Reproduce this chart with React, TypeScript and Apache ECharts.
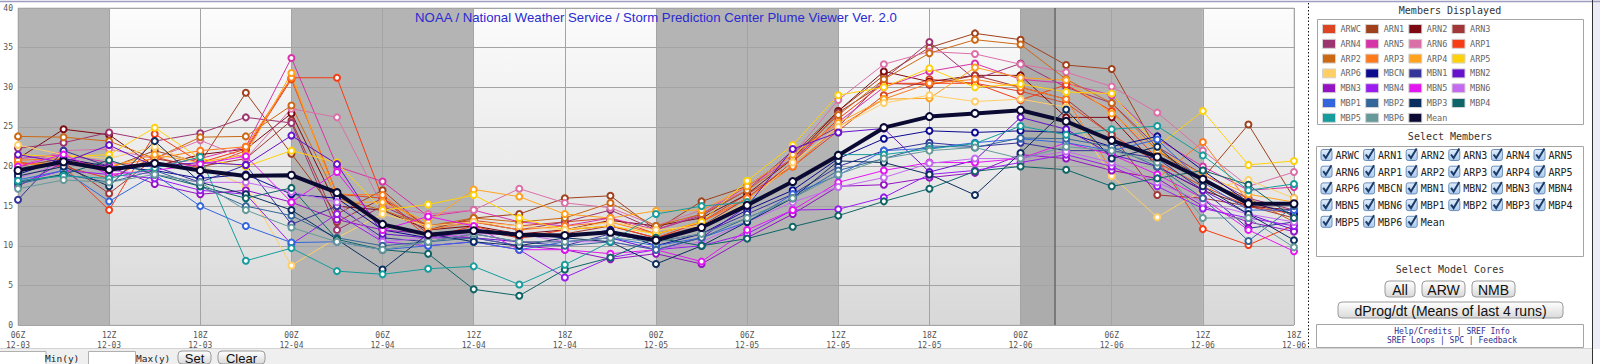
import React, { useEffect, useRef } from 'react';
import * as echarts from 'echarts';

// ---------- data ----------
const hours = [0, 3, 6, 9, 12, 15, 18, 21, 24, 27, 30, 33, 36, 39, 42, 45, 48, 51, 54, 57, 60, 63, 66, 69, 72, 75, 78, 81, 84];
const tickLabels = ['06Z\n12-03', '12Z\n12-03', '18Z\n12-03', '00Z\n12-04', '06Z\n12-04', '12Z\n12-04', '18Z\n12-04', '00Z\n12-05', '06Z\n12-05', '12Z\n12-05', '18Z\n12-05', '00Z\n12-06', '06Z\n12-06', '12Z\n12-06', '18Z\n12-06'];
const nightBands = [[0, 6], [18, 30], [42, 54], [68.25, 78]];
const pastBand = [66, 68.25];
const nowHour = 68.25;

const ARWC = [20.5, 20.0, 18.5, 21.2, 19.8, 22.0, 31.0, 16.5, 16.0, 12.5, 13.2, 12.5, 13.0, 13.5, 11.5, 13.0, 16.5, 20.0, 24.5, 29.0, 31.0, 30.5, 29.5, 28.0, 24.0, 20.5, 17.5, 15.0, 14.0];
const ARN1 = [20.0, 21.0, 19.8, 22.0, 20.5, 29.3, 21.6, 14.0, 17.0, 12.0, 13.5, 14.0, 16.0, 16.3, 12.0, 15.6, 17.5, 21.5, 27.0, 31.5, 35.0, 36.8, 36.0, 32.8, 32.3, 22.0, 18.5, 25.3, 16.0];
const ARN2 = [21.0, 24.7, 24.0, 20.0, 21.5, 22.2, 26.7, 15.0, 14.5, 12.0, 12.5, 11.5, 12.0, 13.2, 12.5, 13.5, 16.5, 21.0, 27.0, 32.0, 30.7, 31.5, 31.5, 26.2, 26.2, 20.0, 17.0, 15.0, 14.5];
const ARN3 = [19.5, 20.5, 16.6, 21.0, 20.0, 21.0, 25.8, 13.0, 16.0, 11.5, 12.0, 11.0, 11.5, 12.5, 11.0, 12.5, 16.0, 20.5, 26.8, 30.5, 30.3, 31.5, 30.0, 28.5, 24.0, 16.4, 16.0, 15.0, 13.5];
const ARN4 = [22.3, 23.0, 24.3, 23.2, 24.2, 26.2, 25.5, 12.0, 15.0, 12.5, 13.0, 12.0, 13.0, 14.5, 12.0, 13.8, 17.0, 22.0, 25.0, 31.0, 35.7, 31.0, 33.0, 30.0, 28.0, 22.5, 19.0, 16.0, 14.5];
const ARN5 = [21.0, 21.5, 20.5, 20.0, 21.0, 22.5, 33.7, 20.0, 18.1, 13.7, 14.5, 13.0, 12.5, 13.5, 12.0, 14.0, 17.5, 21.0, 25.6, 30.0, 32.0, 33.0, 31.0, 30.5, 29.0, 23.5, 20.0, 17.0, 17.4];
const ARN6 = [20.0, 22.0, 22.2, 21.0, 23.3, 21.0, 27.3, 26.2, 15.0, 14.0, 14.5, 17.2, 15.4, 14.8, 12.5, 14.5, 17.0, 21.5, 28.4, 32.9, 34.5, 34.2, 32.9, 31.9, 30.1, 26.8, 22.0, 17.5, 19.3];
const ARP1 = [20.5, 20.0, 14.5, 24.1, 20.5, 22.2, 31.2, 31.2, 16.0, 11.0, 12.5, 11.0, 12.0, 12.5, 11.0, 13.0, 16.0, 20.5, 26.0, 30.5, 30.5, 30.5, 28.4, 30.3, 27.0, 21.0, 12.1, 10.1, 12.6];
const ARP2 = [23.8, 23.7, 23.2, 21.0, 23.7, 23.8, 27.7, 16.0, 14.5, 12.5, 13.5, 13.0, 13.5, 15.4, 12.5, 14.0, 17.0, 21.0, 26.5, 31.0, 34.3, 36.0, 35.4, 31.0, 28.0, 22.0, 18.0, 16.0, 13.0];
const ARP3 = [20.8, 21.0, 20.0, 21.0, 22.0, 22.5, 31.2, 16.5, 16.4, 12.0, 13.0, 12.0, 12.5, 13.0, 11.5, 13.0, 16.0, 20.0, 25.0, 28.5, 30.5, 31.0, 30.0, 28.5, 19.5, 18.5, 23.1, 15.5, 14.0];
const ARP4 = [20.2, 20.5, 20.0, 21.5, 20.5, 21.5, 31.8, 15.5, 15.5, 13.0, 17.1, 16.2, 14.0, 13.5, 14.4, 14.5, 17.5, 21.5, 25.5, 28.5, 28.6, 32.5, 31.2, 30.9, 26.7, 22.0, 19.0, 16.5, 15.5];
const ARP5 = [21.5, 21.2, 21.5, 24.9, 21.0, 20.0, 22.0, 20.5, 14.5, 15.2, 16.4, 13.5, 12.0, 12.5, 11.5, 13.0, 18.2, 22.7, 29.0, 30.0, 32.4, 30.0, 30.4, 29.4, 29.2, 22.5, 27.0, 20.2, 20.7];
const ARP6 = [22.7, 21.5, 21.0, 22.5, 20.2, 17.5, 7.5, 11.0, 14.0, 12.5, 13.0, 12.5, 12.0, 13.0, 12.0, 12.5, 15.5, 20.5, 25.0, 28.0, 29.0, 28.2, 28.5, 27.5, 18.8, 13.6, 17.0, 18.3, 16.0];
const MBCN = [19.0, 21.0, 20.0, 19.5, 18.5, 19.0, 16.5, 16.0, 12.0, 11.0, 12.0, 11.5, 11.0, 12.0, 10.0, 11.5, 14.5, 17.0, 21.0, 23.5, 24.5, 24.3, 24.5, 24.3, 22.5, 23.8, 19.5, 15.5, 14.0];
const MBN1 = [15.8, 22.0, 20.0, 20.0, 18.0, 20.2, 12.7, 15.0, 11.0, 10.5, 11.5, 10.5, 10.0, 11.5, 10.5, 11.5, 14.0, 16.5, 20.0, 22.0, 23.0, 22.5, 23.0, 22.0, 22.0, 21.0, 17.0, 12.2, 13.0];
const MBN2 = [21.5, 20.5, 22.7, 20.0, 20.5, 20.2, 23.9, 20.3, 11.5, 11.0, 11.0, 10.5, 10.5, 11.0, 9.5, 11.0, 15.0, 22.2, 24.3, 24.8, 19.3, 20.8, 26.2, 24.7, 21.5, 20.0, 17.0, 14.0, 12.0];
const MBN3 = [17.5, 20.5, 20.0, 17.8, 16.5, 17.0, 15.5, 13.3, 12.0, 11.5, 11.0, 10.0, 9.5, 8.3, 9.0, 7.7, 11.0, 14.0, 17.5, 17.7, 18.6, 19.2, 21.5, 21.0, 19.5, 18.5, 15.0, 13.0, 11.8];
const MBN4 = [18.0, 19.5, 19.0, 18.5, 17.0, 16.5, 10.2, 14.0, 10.5, 10.0, 10.5, 9.5, 6.0, 8.5, 9.5, 10.0, 11.5, 14.5, 14.6, 16.1, 19.0, 19.5, 20.5, 21.5, 20.0, 17.5, 14.7, 13.5, 12.5];
const MBN5 = [20.0, 21.5, 19.0, 19.5, 20.3, 21.3, 15.5, 19.3, 12.0, 13.7, 12.5, 9.5, 9.5, 9.0, 9.5, 8.0, 12.0, 14.5, 18.0, 19.5, 20.5, 20.5, 21.0, 23.0, 21.5, 19.0, 16.0, 12.0, 9.3];
const MBN6 = [18.5, 20.5, 19.5, 19.0, 18.0, 18.0, 16.8, 15.5, 10.5, 11.0, 11.5, 11.5, 10.5, 10.5, 9.5, 10.5, 13.0, 15.5, 17.4, 18.6, 20.4, 21.0, 21.0, 21.9, 20.5, 18.0, 15.5, 14.0, 13.0];
const MBP1 = [18.3, 19.5, 15.6, 19.0, 15.0, 12.5, 10.4, 10.5, 9.5, 10.0, 10.5, 9.5, 10.5, 11.0, 10.0, 11.0, 13.0, 16.5, 18.9, 22.0, 22.3, 23.0, 23.5, 23.0, 22.0, 23.4, 18.0, 14.5, 14.5];
const MBP2 = [17.8, 19.0, 18.0, 19.5, 17.5, 15.0, 13.8, 11.0, 10.0, 10.5, 11.0, 10.0, 10.0, 10.5, 9.5, 11.0, 13.5, 16.0, 19.5, 21.0, 22.6, 22.4, 23.6, 23.5, 22.5, 20.0, 16.0, 10.6, 15.0];
const MBP3 = [18.8, 20.0, 17.5, 23.2, 18.0, 16.5, 14.5, 10.8, 7.0, 11.5, 10.5, 10.0, 11.0, 10.5, 7.7, 10.0, 13.0, 16.0, 20.7, 20.5, 19.0, 16.4, 21.7, 27.2, 21.0, 22.5, 17.5, 14.0, 10.7];
const MBP4 = [18.0, 19.0, 20.8, 19.0, 17.5, 16.0, 17.3, 10.8, 9.5, 9.0, 4.5, 3.7, 7.0, 8.5, 11.0, 10.0, 10.9, 12.4, 13.8, 15.6, 17.2, 19.4, 20.0, 19.6, 17.5, 18.5, 19.5, 17.7, 13.5];
const MBP5 = [18.2, 18.8, 18.5, 19.8, 21.2, 8.1, 9.7, 6.8, 6.4, 7.1, 7.4, 5.1, 7.6, 10.5, 14.0, 15.0, 15.5, 18.0, 21.5, 21.5, 22.2, 22.9, 25.1, 24.0, 24.7, 25.1, 21.4, 17.0, 17.8];
const MBP6 = [17.2, 18.3, 18.0, 19.0, 18.0, 14.5, 12.3, 10.5, 9.5, 10.5, 11.5, 10.5, 10.5, 11.0, 10.5, 11.5, 13.5, 16.0, 19.0, 21.0, 22.0, 22.4, 21.0, 22.5, 22.0, 20.5, 13.5, 13.5, 9.8];
const MEAN = [19.5, 20.6, 19.6, 20.4, 19.5, 18.8, 18.9, 16.7, 12.7, 11.4, 11.9, 11.4, 11.3, 11.7, 10.7, 12.3, 15.1, 18.1, 21.4, 24.9, 26.3, 26.7, 27.1, 25.7, 23.3, 21.2, 18.4, 15.3, 15.3];

const memberNames = ['ARWC', 'ARN1', 'ARN2', 'ARN3', 'ARN4', 'ARN5', 'ARN6', 'ARP1', 'ARP2', 'ARP3', 'ARP4', 'ARP5', 'ARP6', 'MBCN', 'MBN1', 'MBN2', 'MBN3', 'MBN4', 'MBN5', 'MBN6', 'MBP1', 'MBP2', 'MBP3', 'MBP4', 'MBP5', 'MBP6'];
const memberValues = [ARWC, ARN1, ARN2, ARN3, ARN4, ARN5, ARN6, ARP1, ARP2, ARP3, ARP4, ARP5, ARP6, MBCN, MBN1, MBN2, MBN3, MBN4, MBN5, MBN6, MBP1, MBP2, MBP3, MBP4, MBP5, MBP6];
const memberColors = ['#dd4422', '#a0401c', '#7d0a12', '#a33636', '#9c3470', '#d633a8', '#db6fa8', '#f53c14', '#cc6814', '#ff7a1a', '#ffa31f', '#ffd10a', '#ffcf66', '#0b0b8f', '#333399', '#6611cc', '#9413c2', '#9a1cf0', '#e316f2', '#c569f0', '#3366dd', '#336699', '#0c2e5e', '#0e6466', '#169c9c', '#669999'];
const meanName = 'Mean';
const meanColor = '#0a0a33';
const titleText = 'NOAA / National Weather Service / Storm Prediction Center Plume Viewer Ver. 2.0';
const coreButtons = ['All', 'ARW', 'NMB'];

// ---------- styling helpers ----------
const MONO = '"DejaVu Sans Mono", "Liberation Mono", monospace';
const SANS = '"Liberation Sans", Arial, sans-serif';

function txt(text: string, x: number, y: number, size: number, fill: string, family = MONO, align = 'left') {
  return { type: 'text', x, y, silent: true, style: { text, fontSize: size, fontFamily: family, fill, align, verticalAlign: 'middle' } };
}

function button(label: string, x: number, y: number, w: number, h: number, size: number) {
  const fill = new echarts.graphic.LinearGradient(0, 0, 0, 1, [
    { offset: 0, color: '#ffffff' },
    { offset: 1, color: '#d9d9d9' },
  ]);
  return [
    { type: 'rect', silent: true, shape: { x, y, width: w, height: h, r: 4 }, style: { fill, stroke: '#9a9a9a', lineWidth: 1 } },
    txt(label, x + w / 2, y + h / 2 + 0.5, size, '#111', SANS, 'center'),
  ];
}

function checkbox(name: string, x: number, y: number) {
  const fill = new echarts.graphic.LinearGradient(0, 0, 0, 1, [
    { offset: 0, color: '#e2eefb' },
    { offset: 1, color: '#a9c9ee' },
  ]);
  return [
    { type: 'rect', silent: true, shape: { x, y: y - 5.5, width: 11, height: 11, r: 2 }, style: { fill, stroke: '#6a8db8', lineWidth: 1 } },
    { type: 'polyline', silent: true, shape: { points: [[x + 2.2, y - 0.5], [x + 4.8, y + 3], [x + 10.5, y - 6.5]] }, style: { stroke: '#1b3b68', lineWidth: 2, fill: null } },
    txt(name, x + 14.5, y + 0.5, 10, '#222'),
  ];
}

function buildOption() {
  const allNames = [...memberNames, meanName];
  const allColors = [...memberColors, meanColor];

  const legendRows: string[][] = [];
  for (let i = 0; i < allNames.length; i += 4) legendRows.push(allNames.slice(i, i + 4));

  const legends = legendRows.map((row, r) => ({
    data: row.map((n) => ({ name: n, itemStyle: { color: allColors[allNames.indexOf(n)] } })),
    left: 1322,
    top: 24 + r * 14.8,
    orient: 'horizontal',
    icon: 'rect',
    itemWidth: 13,
    itemHeight: 9,
    itemGap: 4.2,
    padding: 0,
    selectedMode: false,
    itemStyle: { borderColor: '#d4d4d4', borderWidth: 1 },
    textStyle: { fontFamily: MONO, fontSize: 8.5, color: '#666' },
  }));

  const graphics: any[] = [];
  // page frame
  graphics.push({ type: 'rect', silent: true, shape: { x: 0, y: 349, width: 1593, height: 15 }, style: { fill: '#efefef' } });
  graphics.push({ type: 'line', silent: true, shape: { x1: 0, y1: 348.5, x2: 1592, y2: 348.5 }, style: { stroke: '#d3d3d3', lineWidth: 1 } });
  graphics.push({ type: 'rect', silent: true, shape: { x: 1593, y: 0, width: 7, height: 349 }, style: { fill: '#ececf6' } });
  graphics.push({ type: 'line', silent: true, shape: { x1: 0, y1: 1.5, x2: 1600, y2: 1.5 }, style: { stroke: '#9d9dc2', lineWidth: 1.5 } });
  graphics.push({ type: 'line', silent: true, shape: { x1: 1592.5, y1: 0, x2: 1592.5, y2: 364 }, style: { stroke: '#333', lineWidth: 1 } });
  graphics.push({ type: 'line', silent: true, shape: { x1: 1308.5, y1: 3, x2: 1308.5, y2: 349 }, style: { stroke: '#111', lineWidth: 1, lineDash: [1.5, 2] } });

  // members displayed
  graphics.push(txt('Members Displayed', 1450, 10, 10, '#333', MONO, 'center'));
  graphics.push({ type: 'rect', silent: true, shape: { x: 1317.5, y: 19.5, width: 266, height: 105 }, style: { fill: 'none', stroke: '#a5a5a5', lineWidth: 1 } });

  // select members
  graphics.push(txt('Select Members', 1450, 136, 10, '#333', MONO, 'center'));
  graphics.push({ type: 'rect', silent: true, shape: { x: 1316.5, y: 146.5, width: 267, height: 110 }, style: { fill: 'none', stroke: '#a5a5a5', lineWidth: 1 } });
  allNames.forEach((n, i) => {
    const r = Math.floor(i / 6);
    const c = i % 6;
    graphics.push(...checkbox(n, 1321 + c * 42.6, 155 + r * 16.7));
  });

  // model cores
  graphics.push(txt('Select Model Cores', 1450, 269, 10, '#333', MONO, 'center'));
  const coreX = [1385, 1422, 1472];
  const coreW = [30, 43, 43];
  coreButtons.forEach((b, i) => graphics.push(...button(b, coreX[i], 281, coreW[i], 16, 14)));
  graphics.push(...button('dProg/dt (Means of last 4 runs)', 1338, 302, 225, 16, 14));

  // links
  graphics.push({ type: 'rect', silent: true, shape: { x: 1316.5, y: 324.5, width: 267, height: 23 }, style: { fill: 'none', stroke: '#a5a5a5', lineWidth: 1 } });
  graphics.push(txt('Help/Credits | SREF Info', 1452, 331, 8, '#2d2d8f', MONO, 'center'));
  graphics.push(txt('SREF Loops | SPC | Feedback', 1452, 340.5, 8, '#2d2d8f', MONO, 'center'));

  // bottom controls
  graphics.push({ type: 'rect', silent: true, shape: { x: -1, y: 351.5, width: 47, height: 13 }, style: { fill: '#fff', stroke: '#b0b0b0', lineWidth: 1 } });
  graphics.push(txt('Min(y)', 45, 358, 9.5, '#222'));
  graphics.push({ type: 'rect', silent: true, shape: { x: 88.5, y: 351.5, width: 47, height: 13 }, style: { fill: '#fff', stroke: '#b0b0b0', lineWidth: 1 } });
  graphics.push(txt('Max(y)', 136, 358, 9.5, '#222'));
  graphics.push(...button('Set', 178, 351, 33, 13, 13));
  graphics.push(...button('Clear', 218, 351, 47, 13, 13));

  const memberSeries = memberNames.map((name, k) => ({
    type: 'line',
    name,
    color: memberColors[k],
    z: 3,
    silent: true,
    data: hours.map((h, i) => [h, memberValues[k][i]]),
    symbol: 'emptyCircle',
    symbolSize: 6,
    lineStyle: { width: 1, color: memberColors[k] },
    itemStyle: { color: memberColors[k], borderWidth: 1.6 },
    emphasis: { disabled: true },
  }));

  const meanSeries = {
    type: 'line',
    name: meanName,
    color: meanColor,
    z: 4,
    silent: true,
    data: hours.map((h, i) => [h, MEAN[i]]),
    symbol: 'emptyCircle',
    symbolSize: 7,
    lineStyle: { width: 4, color: meanColor },
    itemStyle: { color: meanColor, borderWidth: 1.8 },
    emphasis: { disabled: true },
  };

  const bandSeries = {
    type: 'line',
    name: 'bands',
    data: [],
    silent: true,
    markArea: {
      silent: true,
      itemStyle: { color: '#b4b4b4' },
      data: [
        ...nightBands.map(([a, b]) => [{ xAxis: a }, { xAxis: b }]),
        [{ xAxis: pastBand[0], itemStyle: { color: '#acacac' } }, { xAxis: pastBand[1] }],
      ],
    },
    markLine: {
      silent: true,
      symbol: ['none', 'none'],
      label: { show: false },
      lineStyle: { color: '#666', width: 1.5, type: 'solid' },
      data: [{ xAxis: nowHour }],
    },
  };

  const axisLabel = { color: '#555', fontFamily: MONO, fontSize: 8 };

  return {
    animation: false,
    backgroundColor: '#ffffff',
    title: {
      text: titleText,
      left: 656,
      top: 11,
      textAlign: 'center',
      padding: 0,
      textStyle: { color: '#2a2ad0', fontSize: 13.2, fontWeight: 'normal', fontFamily: SANS },
    },
    legend: legends,
    grid: {
      left: 18,
      top: 8,
      width: 1276,
      height: 317,
      show: true,
      borderColor: '#c8c8c8',
      borderWidth: 1,
      backgroundColor: new echarts.graphic.LinearGradient(0, 0, 0, 1, [
        { offset: 0, color: '#fcfcfc' },
        { offset: 1, color: '#d8d8d8' },
      ]),
    },
    xAxis: {
      type: 'value',
      min: 0,
      max: 84,
      interval: 6,
      z: 1.5,
      axisLine: { show: false },
      axisTick: { show: false },
      axisLabel: { ...axisLabel, margin: 5, lineHeight: 10.5, formatter: (v: number) => tickLabels[Math.round(v / 6)] ?? '' },
      splitLine: { show: true, lineStyle: { color: '#a4a4a4', width: 1 } },
    },
    yAxis: {
      type: 'value',
      min: 0,
      max: 40,
      interval: 5,
      z: 1.5,
      axisLine: { show: false },
      axisTick: { show: false },
      axisLabel: { ...axisLabel, margin: 5 },
      splitLine: { show: true, lineStyle: { color: '#a4a4a4', width: 1 } },
    },
    series: [bandSeries, ...memberSeries, meanSeries],
    graphic: { elements: graphics },
  };
}

export default function App() {
  const ref = useRef<HTMLDivElement>(null);
  useEffect(() => {
    if (!ref.current) return;
    const chart = echarts.init(ref.current, null, { renderer: 'svg' });
    chart.setOption(buildOption() as any);
    return () => chart.dispose();
  }, []);
  return <div ref={ref} style={{ position: 'fixed', left: 0, top: 0, width: 1600, height: 364 }} />;
}
